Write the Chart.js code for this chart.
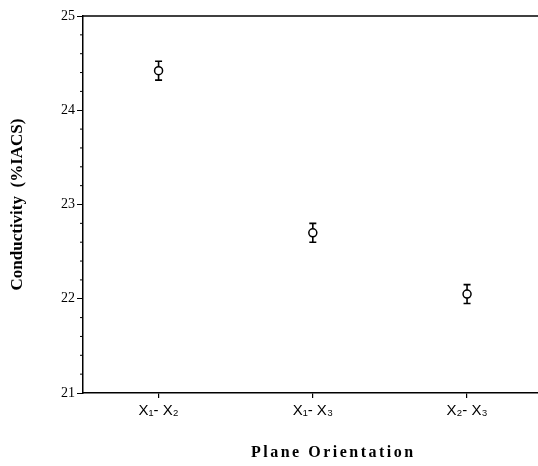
<!DOCTYPE html>
<html>
<head>
<meta charset="utf-8">
<script src="https://cdn.jsdelivr.net/npm/chart.js@4/dist/chart.umd.min.js"></script>
<style>
  html, body { margin: 0; padding: 0; background: #fff; }
  canvas { display: block; }
</style>
</head>
<body>
<canvas id="c" width="538" height="466"></canvas>
<script>
// ---- data ----
const categories = ['X\u2081- X\u2082', 'X\u2081- X\u2083', 'X\u2082- X\u2083'];
const conductivity = [24.42, 22.70, 22.05];
const errorValues = [0.10, 0.10, 0.10];
const yMin = 21;
const yMax = 25;
const yMajorStep = 1;
const yMinorStep = 0.2;
const xTitle = 'Plane Orientation';
const yTitle = 'Conductivity  (%IACS)';

const points = conductivity.map((v, i) => ({ x: i + 1, y: v }));

const errorBarPlugin = {
  id: 'errorBars',
  beforeDatasetsDraw(chart) {
    const ctx = chart.ctx;
    const xs = chart.scales.x, ys = chart.scales.y;
    ctx.save();
    ctx.strokeStyle = '#000';
    ctx.lineWidth = 1.6;
    conductivity.forEach((v, i) => {
      const x = xs.getPixelForValue(i + 1);
      const yt = ys.getPixelForValue(v + errorValues[i]);
      const yb = ys.getPixelForValue(v - errorValues[i]);
      ctx.beginPath();
      ctx.moveTo(x, yt); ctx.lineTo(x, yb);
      ctx.moveTo(x - 3.5, yt); ctx.lineTo(x + 3.5, yt);
      ctx.moveTo(x - 3.5, yb); ctx.lineTo(x + 3.5, yb);
      ctx.stroke();
    });
    ctx.restore();
  },
  afterDraw(chart) {
    const ctx = chart.ctx;
    const ys = chart.scales.y;
    const a = chart.chartArea;
    ctx.save();
    ctx.strokeStyle = '#000';
    ctx.lineWidth = 1.5;
    // top frame line
    ctx.beginPath();
    ctx.moveTo(a.left, a.top);
    ctx.lineTo(chart.width, a.top);
    ctx.stroke();
    // minor ticks
    ctx.lineWidth = 1;
    for (let v = yMin; v <= yMax + 1e-9; v += yMinorStep) {
      const r = Math.round(v * 10) / 10;
      if (Math.abs(r - Math.round(r)) < 1e-6) continue;
      const y = ys.getPixelForValue(r);
      ctx.beginPath();
      ctx.moveTo(a.left - 3, y);
      ctx.lineTo(a.left, y);
      ctx.stroke();
    }
    // x axis title (letter-spaced)
    ctx.fillStyle = '#000';
    ctx.font = 'bold 16px "Liberation Serif", "Times New Roman", serif';
    try { ctx.letterSpacing = '2.5px'; } catch (e) {}
    ctx.textAlign = 'left';
    ctx.textBaseline = 'alphabetic';
    ctx.fillText(xTitle, a.left + 168, chart.height - 9);
    ctx.restore();
  }
};

new Chart(document.getElementById('c'), {
  type: 'scatter',
  data: {
    datasets: [{
      data: points,
      showLine: false,
      pointStyle: 'circle',
      pointRadius: 4,
      pointBorderWidth: 1.5,
      pointBorderColor: '#000',
      pointBackgroundColor: '#fff'
    }]
  },
  options: {
    responsive: false,
    animation: false,
    layout: { autoPadding: false, padding: { top: 16, right: 0, left: 0, bottom: 0 } },
    plugins: { legend: { display: false }, tooltip: { enabled: false } },
    scales: {
      x: {
        type: 'linear',
        min: 0.51,
        max: 3.46,
        afterBuildTicks(scale) { scale.ticks = categories.map((c, i) => ({ value: i + 1 })); },
        afterFit(scale) { scale.height = 73; scale.paddingRight = 0; scale.paddingLeft = 0; },
        grid: { display: true, drawOnChartArea: false, drawTicks: true, tickLength: 5, color: '#000', lineWidth: 1.2 },
        border: { display: true, color: '#000', width: 1.5 },
        ticks: {
          color: '#000', padding: 4, autoSkip: false, maxRotation: 0,
          callback: (v) => categories[Math.round(v) - 1] || '',
          font: { family: '"Liberation Sans", Arial, sans-serif', size: 15 }
        },
        title: { display: false }
      },
      y: {
        min: yMin,
        max: yMax,
        afterFit(scale) { scale.width = 83; },
        grid: { display: true, drawOnChartArea: false, drawTicks: true, tickLength: 6, color: '#000', lineWidth: 1 },
        border: { display: true, color: '#000', width: 1.5 },
        ticks: { stepSize: yMajorStep, color: '#000', padding: 2,
                 font: { family: '"Liberation Serif", "Times New Roman", serif', size: 14 } },
        title: { display: true, text: yTitle, color: '#000', padding: { top: 7, bottom: 0 },
                 font: { family: '"Liberation Serif", "Times New Roman", serif', size: 17, weight: 'bold' } }
      }
    }
  },
  plugins: [errorBarPlugin]
});
</script>
</body>
</html>
